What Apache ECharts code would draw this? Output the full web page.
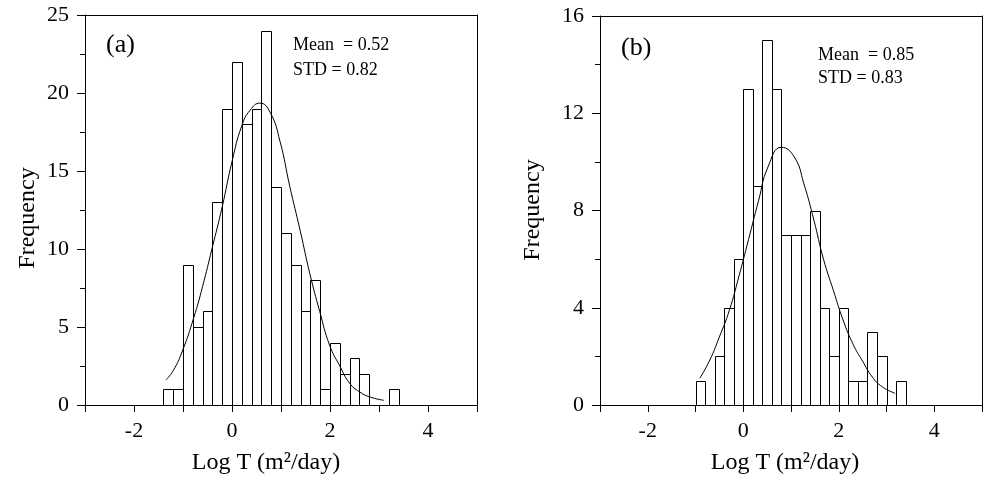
<!DOCTYPE html>
<html>
<head>
<meta charset="utf-8">
<script src="https://cdn.jsdelivr.net/npm/echarts@6/dist/echarts.min.js"></script>
<style>html,body{margin:0;padding:0;background:#fff}#c{width:985px;height:481px}</style>
</head>
<body>
<div id="c"></div>
<script>
// ---- data ----
const binWidth = 0.2;
const aBins = [-1.4,-1.2,-1.0,-0.8,-0.6,-0.4,-0.2,0,0.2,0.4,0.6,0.8,1.0,1.2,1.4,1.6,1.8,2.0,2.2,2.4,2.6,2.8,3.0,3.2];
const aCounts = [1,1,9,5,6,13,19,22,18,19,24,14,11,9,6,8,1,4,2,3,2,0,0,1];
const aCurveX = [-1.35,-1.2,-1.02,-0.78,-0.6,-0.41,-0.2,0,0.2,0.37,0.57,0.78,0.98,1.18,1.39,1.59,1.79,1.99,2.2,2.4,2.6,2.8,3.1];
const aCurveY = [1.6,2.2,3.4,5.6,7.6,10.0,12.7,15.6,17.9,18.9,19.35,18.75,16.9,14.0,11.2,8.4,6.0,3.85,2.5,1.4,0.85,0.53,0.3];

const bBins = [-1.0,-0.8,-0.6,-0.4,-0.2,0,0.2,0.4,0.6,0.8,1.0,1.2,1.4,1.6,1.8,2.0,2.2,2.4,2.6,2.8,3.0,3.2];
const bCounts = [1,0,2,4,6,13,9,15,13,7,7,7,8,4,2,4,1,1,3,2,0,1];
const bCurveX = [-0.91,-0.7,-0.5,-0.29,-0.09,0.11,0.32,0.52,0.8,1.07,1.27,1.48,1.68,1.89,2.09,2.3,2.5,2.7,2.91,3.18];
const bCurveY = [1.1,1.85,2.8,3.9,5.3,6.8,8.4,9.8,10.6,10.2,9.1,7.6,6.0,4.7,3.5,2.5,1.8,1.16,0.75,0.48];

const xTickLabels = [-2, 0, 2, 4];
const aStats = ['Mean  = 0.52', 'STD = 0.82'];
const bStats = ['Mean  = 0.85', 'STD = 0.83'];
const xTitle = 'Log T (m²/day)';
const yTitle = 'Frequency';

// ---- chart ----
const FONT = '"Liberation Serif", "Times New Roman", serif';
const chart = echarts.init(document.getElementById('c'), null, {renderer: 'canvas'});

function histData(bins, counts) {
  return bins.map((b, i) => [b, +(b + binWidth).toFixed(2), counts[i]]);
}
function zip(xs, ys) { return xs.map((x, i) => [x, ys[i]]); }

function renderBar(params, api) {
  const x0 = api.value(0), x1 = api.value(1), v = api.value(2);
  if (!v) return null;
  const p0 = api.coord([x0, 0]);
  const p1 = api.coord([x1, v]);
  return {
    type: 'rect',
    shape: {x: Math.round(p0[0]) + 0.5, y: Math.round(p1[1]) + 0.5,
            width: Math.round(p1[0]) - Math.round(p0[0]), height: Math.round(p0[1]) - Math.round(p1[1])},
    style: {fill: '#fff', stroke: '#000', lineWidth: 1}
  };
}

const black = '#000';
function bottomX(gi) {
  return {
    type: 'value', gridIndex: gi, min: -3, max: 5, interval: 1, position: 'bottom',
    axisLine: {show: true, onZero: false, lineStyle: {color: black, width: 1}},
    axisTick: {show: true, inside: false, length: 7, lineStyle: {color: black}},
    axisLabel: {show: true, margin: 15, color: black, fontFamily: FONT, fontSize: 22,
      formatter: v => xTickLabels.indexOf(v) >= 0 ? String(v) : ''},
    splitLine: {show: false}
  };
}
function frameX(gi) {
  return {type: 'value', gridIndex: gi, min: -3, max: 5, position: 'top',
    axisLine: {show: true, onZero: false, lineStyle: {color: black, width: 1}},
    axisTick: {show: false}, axisLabel: {show: false}, splitLine: {show: false}};
}
function leftY(gi, max, interval) {
  return {
    type: 'value', gridIndex: gi, min: 0, max: max, interval: interval, position: 'left',
    axisLine: {show: true, onZero: false, lineStyle: {color: black, width: 1}},
    axisTick: {show: true, inside: false, length: 8, lineStyle: {color: black}},
    minorTick: {show: true, splitNumber: 2, length: 5, lineStyle: {color: black}},
    axisLabel: {show: true, margin: 16, color: black, fontFamily: FONT, fontSize: 22},
    splitLine: {show: false}
  };
}
function frameY(gi, max) {
  return {type: 'value', gridIndex: gi, min: 0, max: max, position: 'right',
    axisLine: {show: true, onZero: false, lineStyle: {color: black, width: 1}},
    axisTick: {show: false}, axisLabel: {show: false}, splitLine: {show: false}};
}

function txt(x, y, text, size, align, rotation) {
  return {type: 'text', x: x, y: y, rotation: rotation || 0,
    style: {text: text, fill: black, font: size + 'px ' + FONT, textAlign: align || 'left', textVerticalAlign: 'middle'}};
}

const option = {
  backgroundColor: '#fff',
  animation: false,
  grid: [
    {left: 85, top: 15, width: 392, height: 390},
    {left: 600, top: 16, width: 392, height: 389}
  ],
  xAxis: [bottomX(0), frameX(0), bottomX(1), frameX(1)],
  yAxis: [leftY(0, 25, 5), frameY(0, 25), leftY(1, 16, 4), frameY(1, 16)],
  series: [
    {type: 'custom', xAxisIndex: 0, yAxisIndex: 0, data: histData(aBins, aCounts),
     encode: {x: [0, 1], y: 2}, renderItem: renderBar, z: 2},
    {type: 'line', xAxisIndex: 0, yAxisIndex: 0, data: zip(aCurveX, aCurveY), smooth: true,
     showSymbol: false, lineStyle: {color: black, width: 1}, z: 3},
    {type: 'custom', xAxisIndex: 2, yAxisIndex: 2, data: histData(bBins, bCounts),
     encode: {x: [0, 1], y: 2}, renderItem: renderBar, z: 2},
    {type: 'line', xAxisIndex: 2, yAxisIndex: 2, data: zip(bCurveX, bCurveY), smooth: true,
     showSymbol: false, lineStyle: {color: black, width: 1}, z: 3}
  ],
  graphic: [
    txt(106, 45, '(a)', 26),
    txt(293, 45, aStats[0], 18),
    txt(293, 70, aStats[1], 18),
    txt(266, 463, xTitle, 24, 'center'),
    txt(28, 218, yTitle, 24, 'center', Math.PI / 2),
    txt(621, 48, '(b)', 26),
    txt(818, 55, bStats[0], 18),
    txt(818, 78, bStats[1], 18),
    txt(785, 463, xTitle, 24, 'center'),
    txt(533, 210, yTitle, 24, 'center', Math.PI / 2)
  ]
};
chart.setOption(option);
</script>
</body>
</html>
